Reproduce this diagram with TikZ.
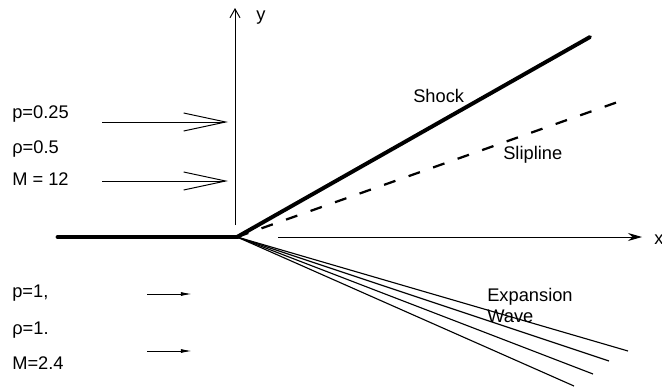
\documentclass[tikz,border=0pt]{standalone}
\usepackage{fontspec}
\setmainfont{Liberation Sans}
\usetikzlibrary{arrows.meta}

\begin{document}
\begin{tikzpicture}[x=0.025cm,y=-0.025cm,
  lbl/.style={anchor=base west,inner sep=0pt,font=\fontsize{13}{15}\selectfont},
  plate/.style={line width=3.5pt,line cap=round},
  shock/.style={line width=2.8pt,line cap=round},
  slip/.style={line width=1.6pt,dash pattern=on 0.3cm off 0.35cm},
  fan/.style={line width=0.8pt},
  axis/.style={line width=0.7pt},
  flowbig/.style={line width=0.7pt,-{Straight Barb[length=1.05cm,width=0.45cm]}},
  flowsmall/.style={line width=0.7pt,-{Latex[length=0.28cm,width=0.1cm]}}]
\useasboundingbox (0,0) rectangle (662,388);

% corner of the plate and the axes
\coordinate (O) at (237,237);
\coordinate (plate) at (58,237);
\coordinate (ybot) at (235,225);
\coordinate (ytop) at (235,8);
\coordinate (xbeg) at (278,237);
\coordinate (xend) at (642,237);
\draw[plate] (plate) -- (O);
\draw[axis,-{Straight Barb[length=0.22cm,width=0.25cm]}] (ybot) -- (ytop);
\draw[axis,-{Stealth[length=0.35cm,width=0.2cm]}] (xbeg) -- (xend);
\node[lbl] (ylab) at (256,20) {y};
\node[lbl] (xlab) at (654,244) {x};

% shock and slipline
\coordinate (shockend) at (590,37);
\coordinate (slipend) at (629,98);
\draw[shock] (O) -- (shockend);
\draw[slip] (O) -- (slipend);
\node[lbl] (shock) at (413,102) {Shock};
\node[lbl] (slip) at (503,159) {Slipline};

% expansion fan
\foreach \ex/\ey [count=\k] in {628/351,609/361,593/374,574/386}{
  \coordinate (fan\k) at (\ex,\ey);
  \draw[fan] (O) -- (fan\k);
}
\node[lbl] (exp) at (487,301) {Expansion};
\node[lbl] (wave) at (487,322) {Wave};

% upper stream
\node[lbl] (pu) at (12,118) {p=0.25};
\node[lbl] (ru) at (12,153) {ρ=0.5};
\node[lbl] (mu) at (12,185) {M = 12};
\coordinate (u1s) at (102,122); \coordinate (u1e) at (228,122);
\coordinate (u2s) at (102,181); \coordinate (u2e) at (228,181);
\draw[flowbig] (u1s) -- (u1e);
\draw[flowbig] (u2s) -- (u2e);

% lower stream
\node[lbl] (pl) at (12,297) {p=1,};
\node[lbl] (rl) at (12,334) {ρ=1.};
\node[lbl] (ml) at (12,369) {M=2.4};
\coordinate (l1s) at (147,294); \coordinate (l1e) at (192,294);
\coordinate (l2s) at (147,351); \coordinate (l2e) at (192,351);
\draw[flowsmall] (l1s) -- (l1e);
\draw[flowsmall] (l2s) -- (l2e);
\end{tikzpicture}
\end{document}
